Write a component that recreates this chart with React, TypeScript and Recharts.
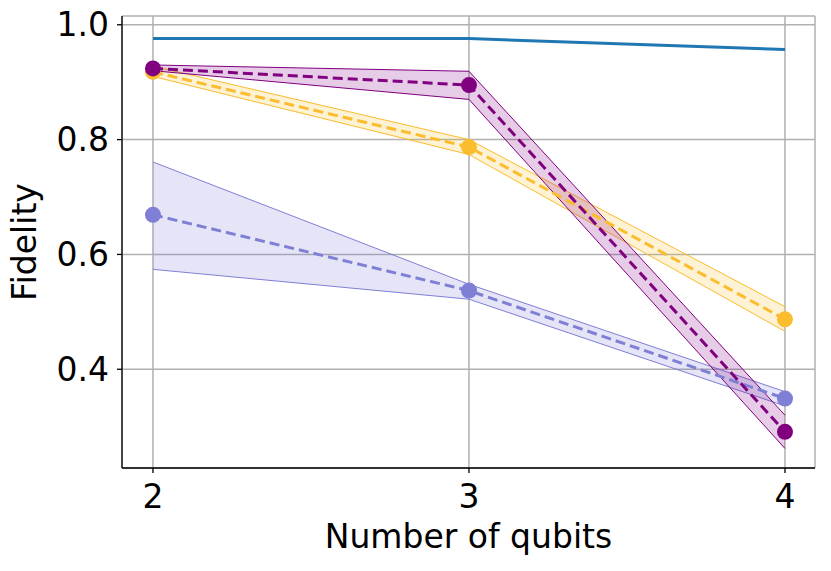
import { ComposedChart, Line, Area, XAxis, YAxis, CartesianGrid } from 'recharts'

const qubits = [2, 3, 4]
const baseline = [0.976, 0.976, 0.957]

const purpleMean = [0.924, 0.895, 0.291]
const purpleLow = [0.92, 0.87, 0.262]
const purpleHigh = [0.93, 0.919, 0.32]

const orangeMean = [0.918, 0.787, 0.487]
const orangeLow = [0.91, 0.774, 0.466]
const orangeHigh = [0.928, 0.8, 0.509]

const lavenderMean = [0.669, 0.537, 0.349]
const lavenderLow = [0.574, 0.522, 0.336]
const lavenderHigh = [0.761, 0.548, 0.361]

const xTicks = [2, 3, 4]
const yTicks = [0.4, 0.6, 0.8, 1.0]

const BLUE = '#1f77b4'
const PURPLE = '#800080'
const ORANGE = '#fbbc2e'
const LAVENDER = '#7f7fd5'
const FONT = 'DejaVu Sans, sans-serif'

const data = qubits.map((q, i) => ({
  q,
  baseline: baseline[i],
  purple: purpleMean[i],
  purpleBand: [purpleLow[i], purpleHigh[i]],
  orange: orangeMean[i],
  orangeBand: [orangeLow[i], orangeHigh[i]],
  lavender: lavenderMean[i],
  lavenderBand: [lavenderLow[i], lavenderHigh[i]],
}))

const tickStyle = { fill: '#000', fontSize: 33, fontFamily: FONT }

export default function App() {
  return (
    <div style={{ position: 'fixed', left: 0, top: 0, width: 831, height: 571, background: '#fff' }}>
      <ComposedChart
        width={831}
        height={571}
        data={data}
        margin={{ top: 16, right: 16, left: 0, bottom: 0 }}
      >
        <CartesianGrid stroke="#b0b0b0" strokeWidth={1.5} />
        <XAxis
          dataKey="q"
          type="number"
          domain={[1.902, 4.095]}
          ticks={xTicks}
          allowDataOverflow
          height={103}
          stroke="#000"
          strokeWidth={1.3}
          tickSize={5}
          tickMargin={12}
          tick={tickStyle}
          label={{
            content: (props: any) => {
              const vb = props.viewBox
              return (
                <text
                  x={vb.x + vb.width / 2}
                  y={vb.y + 80}
                  textAnchor="middle"
                  fontSize={33}
                  fontFamily={FONT}
                  fill="#000"
                >
                  Number of qubits
                </text>
              )
            },
          }}
        />
        <XAxis xAxisId="top" dataKey="q" type="number" orientation="top" domain={[1.902, 4.095]} height={0} tick={false} tickLine={false} stroke="#000" strokeWidth={1.3} />
        <YAxis
          type="number"
          domain={[0.228, 1.0153]}
          ticks={yTicks}
          allowDataOverflow
          width={122}
          stroke="#000"
          strokeWidth={1.3}
          tickSize={5}
          tickMargin={8}
          tick={tickStyle}
          tickFormatter={(v: number) => v.toFixed(1)}
          label={{
            content: (props: any) => {
              const vb = props.viewBox
              const cy = vb.y + vb.height / 2
              return (
                <text
                  x={36}
                  y={cy}
                  transform={`rotate(-90, 36, ${cy})`}
                  textAnchor="middle"
                  fontSize={33}
                  fontFamily={FONT}
                  fill="#000"
                >
                  Fidelity
                </text>
              )
            },
          }}
        />
        <YAxis yAxisId="right" orientation="right" width={0} tick={false} tickLine={false} stroke="#000" strokeWidth={1.3} />

        <Area dataKey="lavenderBand" type="linear" fill={LAVENDER} fillOpacity={0.2} stroke={LAVENDER} strokeWidth={1} isAnimationActive={false} />
        <Area dataKey="orangeBand" type="linear" fill={ORANGE} fillOpacity={0.2} stroke={ORANGE} strokeWidth={1} isAnimationActive={false} />
        <Area dataKey="purpleBand" type="linear" fill={PURPLE} fillOpacity={0.2} stroke={PURPLE} strokeWidth={1} isAnimationActive={false} />

        <Line dataKey="baseline" type="linear" stroke={BLUE} strokeWidth={3} dot={false} isAnimationActive={false} />
        <Line dataKey="lavender" type="linear" stroke={LAVENDER} strokeWidth={3} strokeDasharray="10 5" dot={{ r: 8, fill: LAVENDER, stroke: 'none' }} isAnimationActive={false} />
        <Line dataKey="orange" type="linear" stroke={ORANGE} strokeWidth={3} strokeDasharray="10 5" dot={{ r: 8, fill: ORANGE, stroke: 'none' }} isAnimationActive={false} />
        <Line dataKey="purple" type="linear" stroke={PURPLE} strokeWidth={3} strokeDasharray="10 5" dot={{ r: 8, fill: PURPLE, stroke: 'none' }} isAnimationActive={false} />
      </ComposedChart>
    </div>
  )
}
